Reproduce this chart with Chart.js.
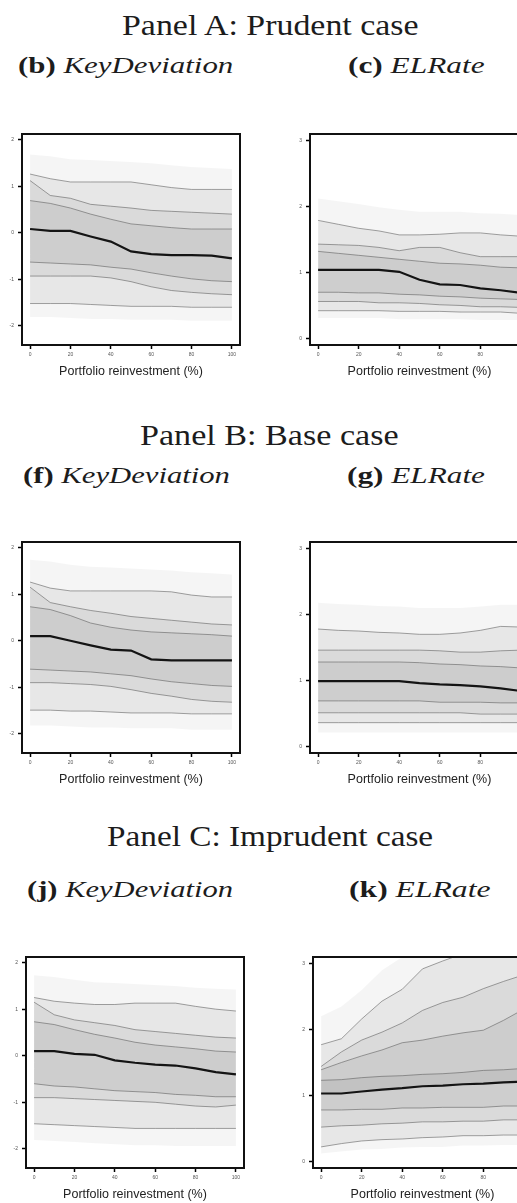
<!DOCTYPE html>
<html>
<head>
<meta charset="utf-8">
<script src="https://cdn.jsdelivr.net/npm/chart.js@4.4.1/dist/chart.umd.min.js"></script>
<style>
  html, body { margin: 0; padding: 0; background: #fff; overflow: hidden; }
  body { width: 517px; height: 1203px; position: relative; }
  .t { position: absolute; white-space: nowrap; font-family: "Liberation Serif", "DejaVu Serif", serif; color: #1c1c1c; line-height: 1; transform-origin: 0 50%; }
  .t b { font-weight: bold; }
  .t i { font-style: italic; }
  canvas { position: absolute; }
</style>
</head>
<body>
<div class="t" data-l="122" data-r="418" data-cy="25" data-fs="30">Panel A: Prudent case</div>
<div class="t" data-l="18" data-r="233" data-cy="65" data-fs="24"><b>(b)</b> <i>KeyDeviation</i></div>
<div class="t" data-l="348" data-r="485" data-cy="65" data-fs="24"><b>(c)</b> <i>ELRate</i></div>

<div class="t" data-l="140" data-r="398" data-cy="435" data-fs="30">Panel B: Base case</div>
<div class="t" data-l="23" data-r="230" data-cy="475" data-fs="24"><b>(f)</b> <i>KeyDeviation</i></div>
<div class="t" data-l="347" data-r="485" data-cy="475" data-fs="24"><b>(g)</b> <i>ELRate</i></div>

<div class="t" data-l="107" data-r="433" data-cy="836" data-fs="30">Panel C: Imprudent case</div>
<div class="t" data-l="27" data-r="233" data-cy="889" data-fs="24"><b>(j)</b> <i>KeyDeviation</i></div>
<div class="t" data-l="349" data-r="490" data-cy="889" data-fs="24"><b>(k)</b> <i>ELRate</i></div>

<canvas id="cb"></canvas>
<canvas id="cc"></canvas>
<canvas id="cf"></canvas>
<canvas id="cg"></canvas>
<canvas id="cj"></canvas>
<canvas id="ck"></canvas>

<script>
// x axis: portfolio reinvestment share
const reinvest = [0, 10, 20, 30, 40, 50, 60, 70, 80, 90, 100];
const xTicks = [0, 20, 40, 60, 80, 100];
const kdTicks = [-2, -1, 0, 1, 2];
const elTicks = [0, 1, 2, 3];

// Panel A (prudent) - KeyDeviation fan quantiles
const bQ99 = [1.68, 1.64, 1.58, 1.56, 1.54, 1.52, 1.49, 1.45, 1.41, 1.39, 1.37];
const bQ95 = [1.26, 1.16, 1.09, 1.09, 1.09, 1.09, 1.03, 0.97, 0.93, 0.93, 0.93];
const bQ90 = [1.12, 0.80, 0.74, 0.61, 0.57, 0.53, 0.48, 0.46, 0.44, 0.42, 0.40];
const bQ75 = [0.69, 0.63, 0.53, 0.40, 0.29, 0.19, 0.15, 0.11, 0.08, 0.08, 0.08];
const bMed = [0.08, 0.04, 0.04, -0.08, -0.19, -0.40, -0.46, -0.48, -0.48, -0.49, -0.55];
const bQ25 = [-0.63, -0.65, -0.67, -0.69, -0.74, -0.78, -0.86, -0.93, -0.99, -1.03, -1.05];
const bQ10 = [-0.93, -0.93, -0.93, -0.93, -0.97, -1.05, -1.16, -1.24, -1.28, -1.31, -1.33];
const bQ05 = [-1.52, -1.52, -1.52, -1.54, -1.56, -1.58, -1.58, -1.58, -1.60, -1.60, -1.60];
const bQ01 = [-1.81, -1.81, -1.83, -1.85, -1.85, -1.87, -1.87, -1.87, -1.89, -1.89, -1.89];

// Panel A (prudent) - ELRate
const cQ99 = [2.12, 2.08, 2.04, 1.99, 1.95, 1.92, 1.92, 1.92, 1.90, 1.89, 1.87];
const cQ95 = [1.79, 1.73, 1.67, 1.63, 1.57, 1.57, 1.58, 1.60, 1.60, 1.57, 1.55];
const cQ90 = [1.43, 1.42, 1.41, 1.38, 1.33, 1.38, 1.38, 1.30, 1.24, 1.24, 1.24];
const cQ75 = [1.32, 1.29, 1.26, 1.23, 1.20, 1.17, 1.14, 1.13, 1.11, 1.08, 1.07];
const cMed = [1.04, 1.04, 1.04, 1.04, 1.01, 0.89, 0.82, 0.81, 0.76, 0.73, 0.69];
const cQ25 = [0.70, 0.70, 0.69, 0.69, 0.67, 0.66, 0.64, 0.63, 0.61, 0.60, 0.59];
const cQ10 = [0.56, 0.56, 0.56, 0.54, 0.54, 0.53, 0.51, 0.50, 0.48, 0.48, 0.47];
const cQ05 = [0.42, 0.42, 0.42, 0.42, 0.41, 0.41, 0.41, 0.40, 0.40, 0.40, 0.38];
const cQ01 = [0.31, 0.31, 0.31, 0.31, 0.29, 0.29, 0.29, 0.29, 0.28, 0.28, 0.28];

// Panel B (base) - KeyDeviation
const fQ99 = [1.74, 1.70, 1.63, 1.59, 1.57, 1.55, 1.53, 1.51, 1.47, 1.45, 1.42];
const fQ95 = [1.26, 1.13, 1.07, 1.07, 1.07, 1.07, 1.07, 1.05, 0.98, 0.94, 0.94];
const fQ90 = [1.15, 0.82, 0.73, 0.65, 0.59, 0.52, 0.48, 0.44, 0.40, 0.36, 0.34];
const fQ75 = [0.73, 0.67, 0.54, 0.38, 0.29, 0.23, 0.19, 0.17, 0.15, 0.13, 0.10];
const fMed = [0.10, 0.10, 0.00, -0.10, -0.19, -0.21, -0.40, -0.42, -0.42, -0.42, -0.42];
const fQ25 = [-0.61, -0.63, -0.65, -0.67, -0.71, -0.75, -0.82, -0.88, -0.92, -0.96, -0.98];
const fQ10 = [-0.90, -0.90, -0.92, -0.94, -0.98, -1.05, -1.13, -1.19, -1.26, -1.30, -1.32];
const fQ05 = [-1.49, -1.49, -1.51, -1.51, -1.53, -1.55, -1.55, -1.55, -1.57, -1.57, -1.57];
const fQ01 = [-1.82, -1.82, -1.84, -1.86, -1.86, -1.88, -1.88, -1.88, -1.91, -1.91, -1.91];

// Panel B (base) - ELRate
const gQ99 = [2.18, 2.16, 2.15, 2.13, 2.12, 2.10, 2.10, 2.10, 2.12, 2.15, 2.15];
const gQ95 = [1.78, 1.76, 1.75, 1.73, 1.72, 1.70, 1.70, 1.72, 1.76, 1.82, 1.81];
const gQ90 = [1.46, 1.46, 1.46, 1.46, 1.46, 1.46, 1.45, 1.43, 1.43, 1.45, 1.46];
const gQ75 = [1.28, 1.28, 1.28, 1.28, 1.28, 1.27, 1.25, 1.24, 1.22, 1.21, 1.19];
const gMed = [0.99, 0.99, 0.99, 0.99, 0.99, 0.96, 0.94, 0.93, 0.91, 0.88, 0.84];
const gQ25 = [0.69, 0.69, 0.69, 0.69, 0.69, 0.69, 0.67, 0.67, 0.67, 0.66, 0.66];
const gQ10 = [0.51, 0.51, 0.51, 0.51, 0.51, 0.51, 0.51, 0.51, 0.49, 0.49, 0.49];
const gQ05 = [0.36, 0.36, 0.36, 0.36, 0.36, 0.36, 0.36, 0.36, 0.36, 0.36, 0.36];
const gQ01 = [0.21, 0.21, 0.21, 0.21, 0.21, 0.21, 0.21, 0.21, 0.21, 0.21, 0.21];

// Panel C (imprudent) - KeyDeviation
const jQ99 = [1.73, 1.69, 1.63, 1.58, 1.56, 1.54, 1.52, 1.50, 1.46, 1.44, 1.42];
const jQ95 = [1.25, 1.17, 1.13, 1.10, 1.10, 1.13, 1.13, 1.13, 1.06, 1.00, 0.96];
const jQ90 = [1.15, 0.88, 0.77, 0.71, 0.65, 0.56, 0.52, 0.48, 0.44, 0.40, 0.38];
const jQ75 = [0.73, 0.67, 0.56, 0.46, 0.38, 0.29, 0.23, 0.19, 0.15, 0.10, 0.08];
const jMed = [0.10, 0.10, 0.04, 0.02, -0.10, -0.15, -0.19, -0.21, -0.27, -0.35, -0.40];
const jQ25 = [-0.60, -0.65, -0.67, -0.71, -0.75, -0.77, -0.79, -0.83, -0.85, -0.88, -0.88];
const jQ10 = [-0.90, -0.90, -0.92, -0.94, -0.96, -0.98, -1.00, -1.04, -1.08, -1.10, -1.06];
const jQ05 = [-1.46, -1.48, -1.50, -1.52, -1.54, -1.56, -1.56, -1.56, -1.56, -1.56, -1.56];
const jQ01 = [-1.81, -1.83, -1.85, -1.88, -1.90, -1.92, -1.92, -1.94, -1.94, -1.94, -1.94];

// Panel C (imprudent) - ELRate
const kQ99 = [2.20, 2.35, 2.60, 2.90, 3.10, 3.30, 3.40, 3.50, 3.60, 3.60, 3.70];
const kQ95 = [1.77, 1.86, 2.16, 2.43, 2.61, 2.92, 3.04, 3.15, 3.22, 3.30, 3.34];
const kQ90 = [1.44, 1.66, 1.84, 1.96, 2.10, 2.29, 2.41, 2.49, 2.62, 2.73, 2.83];
const kQ80 = [1.39, 1.50, 1.60, 1.69, 1.80, 1.84, 1.90, 1.95, 1.99, 2.14, 2.31];
const kQ75 = [1.23, 1.24, 1.27, 1.29, 1.30, 1.32, 1.33, 1.35, 1.38, 1.39, 1.41];
const kMed = [1.03, 1.03, 1.06, 1.09, 1.11, 1.14, 1.15, 1.17, 1.18, 1.20, 1.21];
const kQ25 = [0.78, 0.78, 0.79, 0.79, 0.81, 0.81, 0.82, 0.82, 0.82, 0.84, 0.84];
const kQ10 = [0.52, 0.54, 0.55, 0.57, 0.58, 0.60, 0.60, 0.61, 0.61, 0.63, 0.63];
const kQ05 = [0.22, 0.27, 0.31, 0.33, 0.34, 0.36, 0.37, 0.39, 0.39, 0.40, 0.40];
const kQ01 = [0.12, 0.15, 0.18, 0.19, 0.21, 0.22, 0.22, 0.24, 0.24, 0.25, 0.25];

const panels = [
  { id: 'cb', left: 0,   top: 127, yAxisW: 22, frameW: 218, kind: 'kd', upper: [bQ99, bQ95, bQ90, bQ75], median: bMed, lower: [bQ25, bQ10, bQ05, bQ01] },
  { id: 'cc', left: 288, top: 127, yAxisW: 22, frameW: 219, kind: 'el', upper: [cQ99, cQ95, cQ90, cQ75], median: cMed, lower: [cQ25, cQ10, cQ05, cQ01] },
  { id: 'cf', left: 0,   top: 535, yAxisW: 22, frameW: 218, kind: 'kd', upper: [fQ99, fQ95, fQ90, fQ75], median: fMed, lower: [fQ25, fQ10, fQ05, fQ01] },
  { id: 'cg', left: 288, top: 535, yAxisW: 22, frameW: 219, kind: 'el', upper: [gQ99, gQ95, gQ90, gQ75], median: gMed, lower: [gQ25, gQ10, gQ05, gQ01] },
  { id: 'cj', left: 4,   top: 950, yAxisW: 22, frameW: 218, kind: 'kd', upper: [jQ99, jQ95, jQ90, jQ75], median: jMed, lower: [jQ25, jQ10, jQ05, jQ01] },
  { id: 'ck', left: 291, top: 950, yAxisW: 22, frameW: 219, kind: 'el', upper: [kQ99, kQ95, kQ90, kQ80, kQ75], median: kMed, lower: [kQ25, kQ10, kQ05, kQ01] }
];

const FRAME_H = 216;
const PAD_TOP = 2;
const PAD_RIGHT = 8;
const XAXIS_H = 34;

const frameBox = {
  id: 'frameBox',
  afterDatasetsDraw(chart) {
    const { ctx, chartArea: a } = chart;
    ctx.save();
    ctx.strokeStyle = '#111';
    ctx.lineWidth = 2;
    ctx.strokeRect(a.left, a.top, a.right - a.left, a.bottom - a.top);
    ctx.restore();
  }
};

const toPoints = (arr) => reinvest.map((x, i) => ({ x: x, y: arr[i] }));

const buildChart = (p) => {
  const canvas = document.getElementById(p.id);
  canvas.width = p.yAxisW + p.frameW + PAD_RIGHT;
  canvas.height = PAD_TOP + FRAME_H + XAXIS_H;
  canvas.style.left = p.left + 'px';
  canvas.style.top = p.top + 'px';

  const datasets = [{
    data: toPoints(p.median),
    borderColor: '#141414',
    borderWidth: 2.2,
    fill: false
  }];
  [p.upper, p.lower].forEach((side) => {
    side.forEach((arr, i) => {
      // outermost quantile only bounds the pale shading, it has no line of its own
      const edge = (side === p.upper && i === 0) || (side === p.lower && i === side.length - 1);
      datasets.push({
        data: toPoints(arr),
        fill: 0,
        backgroundColor: edge ? 'rgba(0,0,0,0.04)' : 'rgba(0,0,0,0.058)',
        borderColor: edge ? 'rgba(0,0,0,0)' : 'rgba(85,85,85,0.55)',
        borderWidth: edge ? 0 : 1
      });
    });
  });

  const yTicks = p.kind === 'kd' ? kdTicks : elTicks;
  const yMin = p.kind === 'kd' ? -2.41 : -0.1;
  const yMax = p.kind === 'kd' ? 2.12 : 3.1;
  const tickFont = { size: 5, family: 'Liberation Sans' };

  new Chart(canvas, {
    type: 'line',
    data: { datasets: datasets },
    plugins: [frameBox],
    options: {
      responsive: false,
      animation: false,
      devicePixelRatio: 1,
      layout: { padding: { top: PAD_TOP, right: PAD_RIGHT, left: 0, bottom: 0 }, autoPadding: false },
      elements: { point: { radius: 0 }, line: { tension: 0 } },
      plugins: { legend: { display: false }, tooltip: { enabled: false }, filler: { drawTime: 'beforeDatasetsDraw' } },
      scales: {
        x: {
          type: 'linear', min: -4, max: 104,
          afterBuildTicks: (s) => { s.ticks = xTicks.map(v => ({ value: v })); },
          afterFit: (s) => { s.height = XAXIS_H; },
          grid: { drawOnChartArea: false, drawTicks: true, tickLength: 4, tickColor: '#000', tickWidth: 1.5 },
          border: { display: false },
          ticks: { font: tickFont, color: '#555', padding: 3, maxRotation: 0, autoSkip: false },
          title: { display: true, text: 'Portfolio reinvestment (%)', color: '#222', font: { size: 12.5, family: 'Liberation Sans' }, padding: { top: 0, bottom: 0 } }
        },
        y: {
          type: 'linear', min: yMin, max: yMax,
          afterBuildTicks: (s) => { s.ticks = yTicks.map(v => ({ value: v })); },
          afterFit: (s) => { s.width = p.yAxisW; },
          grid: { drawOnChartArea: false, drawTicks: true, tickLength: 4, tickColor: '#000', tickWidth: 1.5 },
          border: { display: false },
          ticks: { font: tickFont, color: '#555', padding: 4 }
        }
      }
    }
  });
};

panels.forEach(buildChart);

// place the serif headings and stretch them to the measured widths
document.querySelectorAll('.t').forEach((el) => {
  const fs = +el.dataset.fs;
  el.style.fontSize = fs + 'px';
  el.style.left = el.dataset.l + 'px';
  el.style.top = (+el.dataset.cy - 0.51 * fs) + 'px';
  const w = el.offsetWidth;
  const target = el.dataset.r - el.dataset.l;
  el.style.transform = 'scaleX(' + (target / w).toFixed(3) + ')';
});
</script>
</body>
</html>
